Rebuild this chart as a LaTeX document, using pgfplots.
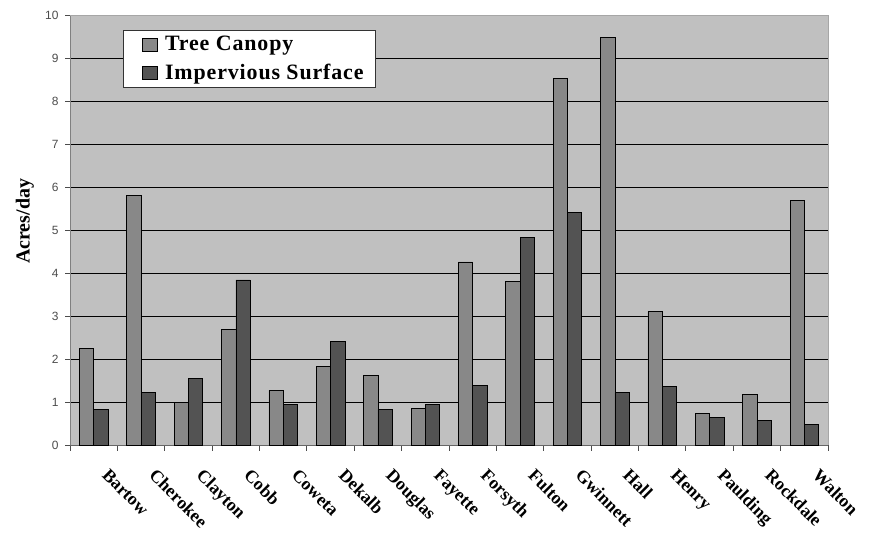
\documentclass[border=0pt]{standalone}
\usepackage{fontspec}
\setmainfont{Liberation Serif}
\newfontfamily\arialf{Liberation Sans}
\usepackage{pgfplots}
\pgfplotsset{compat=1.18}
\usetikzlibrary{calc}
\definecolor{bg}{HTML}{C0C0C0}
\definecolor{treec}{HTML}{888888}
\definecolor{impc}{HTML}{535353}
\begin{document}
\begin{tikzpicture}
\begin{axis}[
  scale only axis,
  width=758bp, height=430bp,
  xmin=-0.5, xmax=15.5, ymin=0, ymax=10,
  axis background/.style={fill=bg},
  ybar=0pt, bar width=14.3bp,
  xtick={0,...,15},
  xticklabels={Bartow,Cherokee,Clayton,Cobb,Coweta,Dekalb,Douglas,Fayette,Forsyth,Fulton,Gwinnett,Hall,Henry,Paulding,Rockdale,Walton},
  major x tick style={draw=none},
  minor xtick={-0.5,0.5,...,15.5},
  minor x tick style={draw=black!70, line width=0.8pt},
  minor tick length=6bp,
  xticklabel style={xshift=16bp, yshift=-13bp, rotate=-45, anchor=north west, font=\bfseries\fontsize{18}{18}\selectfont},
  ytick={0,...,10},
  ymajorgrids,
  grid style={black, line width=0.8pt},
  major y tick style={draw=black!70, line width=0.8pt},
  major tick length=5bp,
  tick align=outside,
  /pgf/number format/assume math mode=true,
  yticklabel style={xshift=-3bp, font=\arialf\fontsize{12}{12}\selectfont, text=black!70},
  ylabel={\textbf{Acres/day}},
  ylabel style={font=\fontsize{20}{20}\selectfont, at={(axis description cs:-0.043,0.52)}, anchor=south},
  axis x line*=bottom,
  axis y line*=left,
  x axis line style={draw=black!60, line width=0.8pt},
  y axis line style={draw=black!50, line width=0.8pt},
  legend style={at={(axis description cs:0.07,0.965)}, anchor=north west, draw=black!80, line width=0.8pt, fill=white,
    font=\bfseries\fontsize{22}{22}\selectfont\addfontfeatures{LetterSpace=4}, inner xsep=9bp, inner ysep=4bp, row sep=8bp,
    nodes={inner xsep=3bp}},
  legend cell align=left,
  legend image code/.code={\path (0bp,0bp) (29bp,0bp); \draw[#1, line width=0.6pt] (10bp,-6.5bp) rectangle (25bp,6.5bp);},
  clip=false,
]
\addplot[fill=treec, draw=black, line width=0.6pt] coordinates {
(0,2.25) (1,5.80) (2,0.99) (3,2.69) (4,1.27) (5,1.83) (6,1.62) (7,0.85)
(8,4.26) (9,3.80) (10,8.53) (11,9.47) (12,3.10) (13,0.73) (14,1.17) (15,5.68)};
\addplot[fill=impc, draw=black, line width=0.6pt] coordinates {
(0,0.83) (1,1.22) (2,1.54) (3,3.84) (4,0.95) (5,2.41) (6,0.82) (7,0.94)
(8,1.39) (9,4.82) (10,5.41) (11,1.22) (12,1.36) (13,0.65) (14,0.58) (15,0.47)};
\legend{Tree Canopy, Impervious Surface}
\draw[black!35, line width=0.8pt] (rel axis cs:1,0) -- (rel axis cs:1,1) -- (rel axis cs:0,1);
\end{axis}
\path[use as bounding box] ($(current axis.south west)+(-70bp,-88bp)$) rectangle ($(current axis.north east)+(47bp,15bp)$);
\end{tikzpicture}
\end{document}
